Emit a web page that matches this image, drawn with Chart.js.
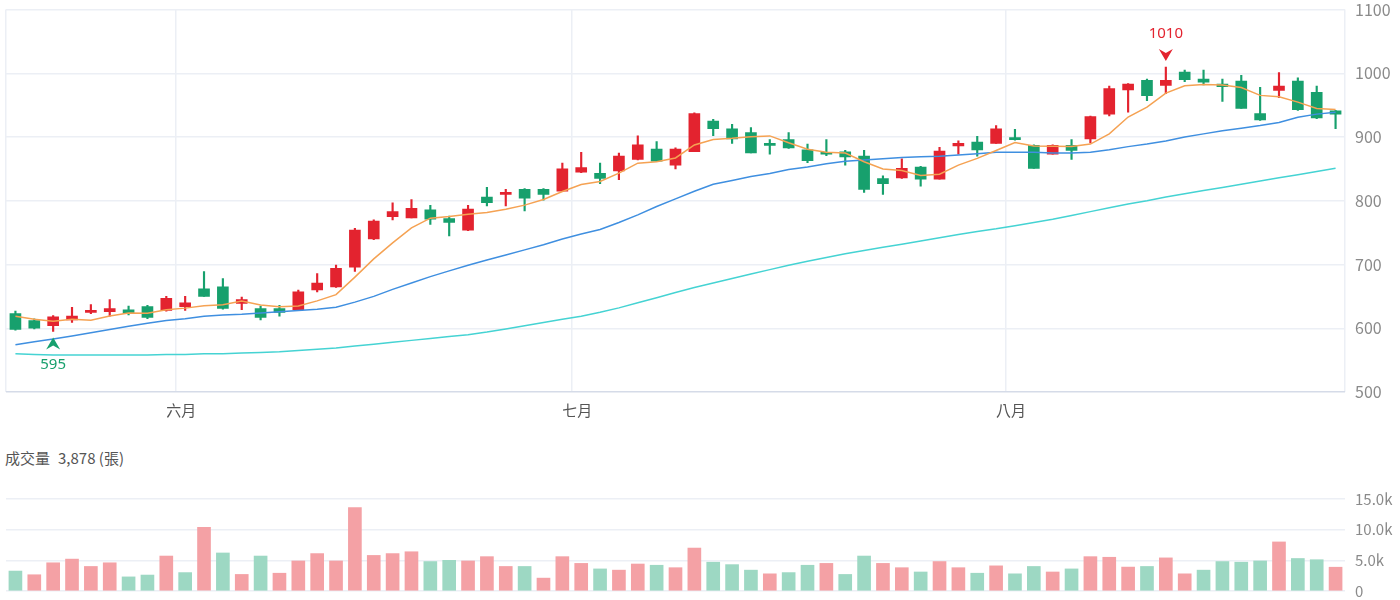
<!DOCTYPE html>
<html>
<head>
<meta charset="utf-8">
<script src="https://cdn.jsdelivr.net/npm/chart.js@4.4.1/dist/chart.umd.min.js"></script>
<style>
    body { margin: 0; background: #fff; font-family: "Noto Sans CJK TC", "Noto Sans", sans-serif; overflow: hidden; }
    #wrap { position: relative; width: 1400px; height: 600px; overflow: hidden; }
    #priceChart { position: absolute; left: 0; top: -10px; }
    #volTitle { position: absolute; left: 5px; top: 447px; font-size: 15px; color: #555; }
    #volTitle span { margin-left: 8px; }
    #volumeChart { position: absolute; left: 0; top: 480px; }
</style>
</head>
<body>
<div id="wrap">
    <canvas id="priceChart" width="1400" height="440"></canvas>
    <div id="volTitle">成交量<span id="volValue"></span></div>
    <canvas id="volumeChart" width="1400" height="130"></canvas>
</div>
<script>
var dates = ['05/19', '05/20', '05/21', '05/22', '05/23', '05/26', '05/27', '05/28', '05/29',
    '06/02', '06/03', '06/04', '06/05', '06/06', '06/09', '06/10', '06/11', '06/12', '06/13', '06/16', '06/17',
    '06/18', '06/19', '06/20', '06/23', '06/24', '06/25', '06/26', '06/27', '06/30',
    '07/01', '07/02', '07/03', '07/04', '07/07', '07/08', '07/09', '07/10', '07/11', '07/14', '07/15', '07/16',
    '07/17', '07/18', '07/21', '07/22', '07/23', '07/24', '07/25', '07/28', '07/29', '07/30', '07/31',
    '08/01', '08/04', '08/05', '08/06', '08/07', '08/08', '08/11', '08/12', '08/13', '08/14', '08/15',
    '08/18', '08/19', '08/20', '08/21', '08/22', '08/25', '08/26'];
var monthNames = { '05': '五月', '06': '六月', '07': '七月', '08': '八月' };

var opens = [623, 612, 604, 613, 625, 626, 629, 634, 628, 634, 662, 665, 639, 631, 631, 629, 660, 665, 696, 740,
    775, 773, 786, 772, 754, 806, 810, 818, 818, 815, 845, 843, 847, 865, 881, 856, 877, 925, 913, 907,
    890, 896, 880, 876, 877, 870, 835, 836, 853, 834, 886, 892, 890, 899, 887, 873, 887, 897, 936, 974,
    989, 981, 1002, 991, 983, 988, 937, 973, 988, 970, 941];
var closes = [598, 600, 618, 619, 628, 631, 623, 617, 647, 640, 650, 631, 645, 617, 625, 657, 671, 694, 754, 768,
    783, 788, 771, 766, 787, 797, 812, 804, 810, 850, 852, 835, 870, 888, 862, 881, 937, 913, 897, 875,
    887, 883, 863, 873, 869, 818, 827, 851, 834, 878, 890, 880, 913, 896, 851, 887, 879, 932, 976, 983,
    965, 989, 990, 986, 979, 945, 927, 980, 943, 930, 936];
var highs = [627, 615, 620, 633, 637, 645, 635, 636, 650, 650, 689, 678, 649, 635, 636, 660, 686, 699, 757, 770,
    797, 802, 793, 776, 793, 821, 818, 819, 819, 859, 876, 859, 875, 902, 893, 883, 938, 928, 920, 915,
    896, 907, 889, 896, 879, 879, 839, 866, 854, 884, 894, 901, 918, 912, 888, 888, 896, 933, 980, 984,
    991, 1010, 1005, 1005, 991, 997, 978, 1001, 993, 980, 942];
var lows = [597, 599, 595, 609, 623, 619, 621, 615, 627, 628, 650, 630, 629, 613, 619, 629, 657, 664, 689, 739,
    770, 773, 763, 745, 753, 792, 792, 784, 801, 815, 844, 827, 833, 864, 862, 850, 877, 902, 890, 875,
    873, 882, 860, 871, 856, 813, 810, 835, 823, 834, 873, 870, 890, 895, 851, 873, 865, 891, 933, 939,
    957, 968, 987, 982, 956, 945, 926, 962, 942, 929, 913];

var ma5 = [619, 614, 611, 614, 612.6, 619.2, 623.8, 623.6, 629.2, 631.6,
    635.4, 637, 642.6, 636.6, 633.6, 635, 643, 652.8, 680.2, 708.8,
    734, 757.4, 772.8, 775.2, 779, 781.8, 786.6, 793.2, 802, 814.6,
    825.6, 830.2, 843.4, 859, 861.2, 867.2, 887.6, 896.2, 898, 900.6,
    901.8, 891, 881, 876.2, 875, 861.2, 850, 847.6, 839.8, 841.6,
    856, 866.6, 879, 891.4, 886, 885.4, 885.2, 889, 905, 931.4,
    947, 969, 980.6, 982.6, 981.8, 977.8, 965.4, 963.4, 954.8, 945, 943.2];
var ma20 = [574, 579, 583, 588, 593, 598, 603, 608, 612, 615,
    619, 621, 622, 624, 626, 628, 630, 633, 641, 650,
    661, 671, 681, 690, 699, 707, 715, 723, 731, 740,
    748, 755, 766, 778, 791, 803, 815, 826, 832, 838,
    843, 849, 853, 858, 862, 864, 866, 868, 869, 870,
    872, 874, 876, 876, 876, 875, 875, 876, 880, 885,
    889, 894, 900, 905, 910, 914, 918, 923, 931, 936, 939];
var ma60 = [560, 559, 558, 558, 558, 558, 558, 558, 559, 559,
    560, 560, 561, 562, 563, 565, 567, 569, 572, 575,
    578, 581, 584, 587, 590, 594, 599, 604, 609, 614,
    619, 625, 632, 640, 648, 656, 664, 671, 678, 685,
    692, 699, 705, 711, 717, 722, 727, 732, 737, 742,
    747, 752, 756, 761, 766, 771, 777, 783, 789, 795,
    800, 806, 811, 816, 821, 826, 831, 836, 841, 846, 851];

var volumes = [3250, 2650, 4600, 5200, 4000, 4600, 2300, 2600, 5700, 3000,
    10400, 6200, 2700, 5700, 2900, 4900, 6100, 4900, 13600, 5800,
    6100, 6400, 4800, 5000, 4900, 5600, 4000, 4000, 2100, 5600,
    4500, 3600, 3400, 4400, 4200, 3800, 7000, 4700, 4300, 3400,
    2800, 3000, 4200, 4500, 2700, 5700, 4500, 3800, 3100, 4800,
    3800, 2900, 4100, 2800, 4000, 3100, 3600, 5600, 5500, 3900,
    4000, 5400, 2800, 3400, 4800, 4700, 4900, 8000, 5300, 5100, 3878];

var upColor = '#E3232F';
var downColor = '#17A06D';
var upVolColor = '#F4A1A5';
var downVolColor = '#9DD8C3';
var gridColor = '#ECEFF5';

function monthLabel(i) {
    var m = dates[i].slice(0, 2);
    if (i > 0 && m !== dates[i - 1].slice(0, 2)) return monthNames[m];
    return '';
}

// 最高 / 最低 標記
function drawMark(ctx, x, y, dir, color, value) {
    var tip = y + dir * 6;
    ctx.save();
    ctx.fillStyle = color;
    ctx.beginPath();
    ctx.moveTo(x, tip);
    ctx.lineTo(x + 7, tip + dir * 12);
    ctx.lineTo(x, tip + dir * 8);
    ctx.lineTo(x - 7, tip + dir * 12);
    ctx.closePath();
    ctx.fill();
    ctx.font = '15px "Noto Sans", sans-serif';
    ctx.textAlign = 'center';
    ctx.textBaseline = 'middle';
    ctx.fillText(String(value), x, y + dir * 33);
    ctx.restore();
}

var extremesPlugin = {
    id: 'extremes',
    afterDatasetsDraw: function(chart) {
        var xs = chart.scales.x, ys = chart.scales.y;
        var hi = highs.indexOf(Math.max.apply(null, highs));
        var lo = lows.indexOf(Math.min.apply(null, lows));
        drawMark(chart.ctx, xs.getPixelForValue(hi), ys.getPixelForValue(highs[hi]), -1, upColor, highs[hi]);
        drawMark(chart.ctx, xs.getPixelForValue(lo), ys.getPixelForValue(lows[lo]), 1, downColor, lows[lo]);
    }
};

document.addEventListener('DOMContentLoaded', function() {
    Chart.defaults.font.family = '"Noto Sans CJK TC", "Noto Sans", sans-serif';
    Chart.defaults.animation = false;

    var candleColors = closes.map(function(c, i) { return c >= opens[i] ? upColor : downColor; });
    var volColors = closes.map(function(c, i) {
        var prev = i > 0 ? closes[i - 1] : opens[i];
        return c >= prev ? upVolColor : downVolColor;
    });

    function line(label, data, color) {
        return {
            type: 'line', label: label, data: data, borderColor: color, borderWidth: 1.5,
            pointRadius: 0, tension: 0, order: 0
        };
    }

    new Chart(document.getElementById('priceChart'), {
        type: 'bar',
        data: {
            labels: dates,
            datasets: [
                line('MA5', ma5, '#F5A253'),
                line('MA20', ma20, '#3F8FE0'),
                line('MA60', ma60, '#45D3D3'),
                {
                    label: 'wick',
                    data: lows.map(function(l, i) { return [l, highs[i]]; }),
                    backgroundColor: candleColors,
                    barThickness: 1.5,
                    grouped: false,
                    order: 2
                },
                {
                    label: 'body',
                    data: opens.map(function(o, i) { return [o, closes[i]]; }),
                    backgroundColor: candleColors,
                    barThickness: 11,
                    minBarLength: 2,
                    grouped: false,
                    order: 1
                }
            ]
        },
        options: {
            responsive: false,
            layout: { padding: { left: 6, top: 1 } },
            plugins: { legend: { display: false }, tooltip: { enabled: false } },
            scales: {
                x: {
                    grid: {
                        offset: true,
                        drawTicks: false,
                        lineWidth: 1.5,
                        color: function(ctx) {
                            if (ctx.tick === undefined) return gridColor;
                            if (ctx.index === 0 || monthLabel(ctx.index)) return gridColor;
                            return 'rgba(0,0,0,0)';
                        }
                    },
                    border: { display: false },
                    ticks: {
                        autoSkip: false,
                        maxRotation: 0,
                        padding: 9,
                        labelOffset: -4,
                        color: '#555',
                        font: { size: 15 },
                        callback: function(v, i) { return monthLabel(i); }
                    },
                    afterFit: function(s) { s.height = 38; }
                },
                y: {
                    position: 'right',
                    min: 500,
                    max: 1100,
                    ticks: {
                        stepSize: 100, padding: 10, color: '#8A8A8A', font: { size: 16 },
                        callback: function(v) { return String(v); }
                    },
                    grid: {
                        drawTicks: false,
                        lineWidth: 1.5,
                        color: function(ctx) { return ctx.tick && ctx.tick.value === 500 ? '#D5DBE8' : gridColor; }
                    },
                    border: { display: false },
                    afterFit: function(s) { s.width = 55; }
                }
            }
        },
        plugins: [extremesPlugin]
    });

    document.getElementById('volValue').textContent = volumes[volumes.length - 1].toLocaleString('en-US') + ' (張)';

    new Chart(document.getElementById('volumeChart'), {
        type: 'bar',
        data: {
            labels: dates,
            datasets: [{
                label: '成交量',
                data: volumes,
                backgroundColor: volColors,
                barThickness: 13
            }]
        },
        options: {
            responsive: false,
            layout: { padding: { left: 6 } },
            plugins: { legend: { display: false }, tooltip: { enabled: false } },
            scales: {
                x: { display: false },
                y: {
                    position: 'right',
                    min: 0,
                    max: 15000,
                    ticks: {
                        stepSize: 5000,
                        padding: 10,
                        color: '#8A8A8A',
                        font: { size: 15 },
                        callback: function(v) { return v === 0 ? '0' : (v / 1000).toFixed(1) + 'k'; }
                    },
                    grid: { drawTicks: false, lineWidth: 1.5, color: gridColor },
                    border: { display: false },
                    afterFit: function(s) { s.width = 55; }
                }
            }
        }
    });
});
</script>
</body>
</html>
